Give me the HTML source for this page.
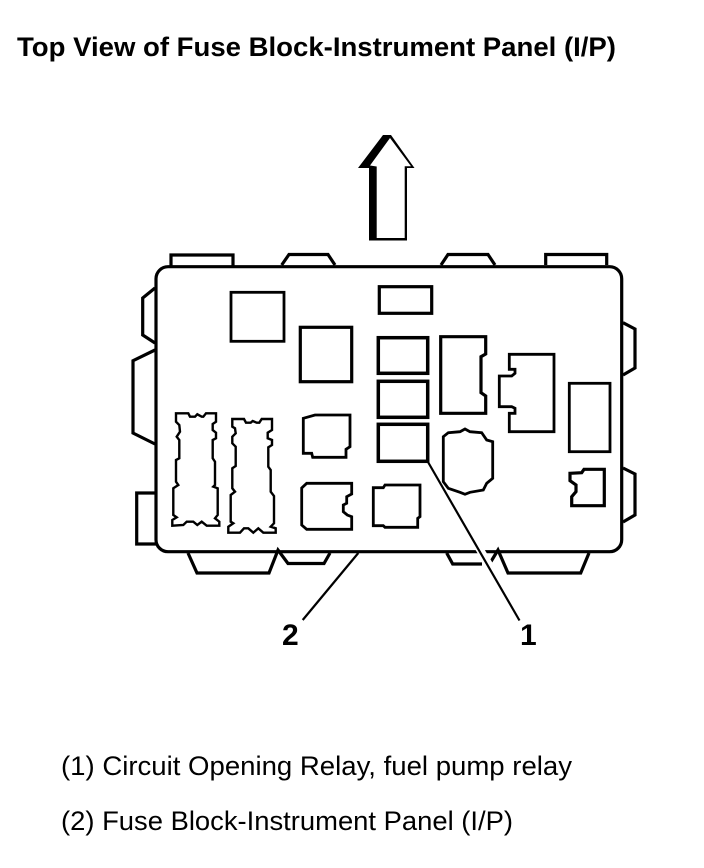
<!DOCTYPE html>
<html><head><meta charset="utf-8"><style>
html,body{margin:0;padding:0;background:#fff;width:704px;height:868px;overflow:hidden}
svg{display:block}
text{font-family:"Liberation Sans",Arial,sans-serif;fill:#000}
.s{fill:none;stroke:#000;stroke-linejoin:miter}
</style></head><body>
<svg width="704" height="868" viewBox="0 0 704 868" xmlns="http://www.w3.org/2000/svg">
<rect width="704" height="868" fill="#fff"/>
<text x="17" y="56" font-size="27" font-weight="bold" textLength="599" lengthAdjust="spacingAndGlyphs">Top View of Fuse Block-Instrument Panel (I/P)</text>

<polygon fill="#000" points="383,135 391,135 414.5,168 407,168 407,240.5 369,240.5 369,168 358,168"/>
<polygon fill="#fff" points="390,138 411,166.3 404.7,166.3 404.7,238 376.7,238 376.7,166.5 370,165.5"/>

<g class="s" stroke-width="3.2">
<path class="s" d="M171,266V255H233V266M281.7,265L289,254.5H328L335,265M441,265L448,254.5H488L495,265M545.7,265V254.5H606.7V265"/>
<path class="s" d="M155,288L142.7,298V335L155,343M155,350L133,360.7V433L155,444M155,493H136.7V544H156"/>
<path class="s" d="M188,553L197,573H269L278,550L288,563.5H324L330,553M446.7,553L452.7,564H482M490.7,562L498,550L508,573H580.7L589,553"/>
<path class="s" d="M623,322.7L635,329V368L623,375M623,468L635,474V515L623,522"/>
<rect class="s" x="156" y="266.7" width="465.7" height="285" rx="12"/>
<rect class="s" x="231" y="292.3" width="53" height="49" stroke-width="2.8"/>
<rect class="s" x="300.3" y="327.3" width="51.4" height="54.4"/>
<rect class="s" x="379.3" y="286.7" width="52.4" height="26.6"/>
<rect class="s" x="378.3" y="337.7" width="49.4" height="35.6" stroke-width="3.5"/>
<rect class="s" x="378.3" y="381.3" width="49.4" height="36" stroke-width="3.5"/>
<rect class="s" x="378.3" y="424.3" width="49.4" height="37" stroke-width="3.5"/>
<polygon class="s" points="440.7,336.7 485.7,336.7 485.7,354 481,356.7 481,392.7 485.7,396 485.7,413.3 440.7,413.3"/>
<polygon class="s" stroke-width="2.8" points="509.3,354.3 554,354.3 554,431.7 509.3,431.7 509.3,413.3 515,413.3 515,408.3 511.7,406.7 499.3,406.7 499.3,376 511.7,376 515,373.3 515,369.3 509.3,369.3"/>
<rect class="s" x="569.3" y="383.3" width="40.7" height="68.4" stroke-width="2.8"/>
<polygon class="s" points="570,473.3 581.7,472.7 584,469.3 604.3,469.3 604.3,505.7 571.7,505.7 571.7,496.7 576,491.7 576,485 570,480.7"/>
<polygon class="s" stroke-width="2.8" points="443.3,436.7 448.3,432.7 460,431.7 465,429 470,431.7 481.7,432.7 486.7,440 492.7,441.7 492.7,478.3 486.7,483.3 483.3,490 470,492.3 465,494.3 460,492.3 448.3,488.3 443.3,481.7"/>
<polygon class="s" stroke-width="2.8" points="373.3,487.7 383.3,487.7 385,485 420,485 420,516.7 417.7,518.3 417.7,527.3 385,527.3 383.3,525.7 373.3,525.7"/>
<polygon class="s" stroke-width="2.8" points="303.3,418.3 315,415 350,415 350,446.7 346,449.3 346,457.3 312.7,457.3 311.7,453.3 303.3,453.3"/>
<polygon class="s" stroke-width="2.8" points="306.7,483.3 351.7,483.3 351.7,494 346.7,496.7 346.7,503.3 343.3,505 343.3,511.7 347.3,515 351.7,516.7 351.7,529.3 306.7,529.3 301.7,525 301.7,488"/>
<polygon class="s" stroke-width="2.4" points="176,413.3 188.3,413.3 190,416.7 195,416.7 197.3,414.3 201.7,416.7 203.3,416.7 206,413.3 216,413.3 216,421.7 212.7,424 212.7,430 216,432.7 216,438.3 212.7,440 212.7,458.3 215,461.7 215,485 213.3,486.7 217.7,488.3 217.7,515 215,518.3 219.3,521.7 219.3,525.7 206.7,525.7 201.7,521.7 197.3,525 193.3,521.7 186.7,521.7 183.3,525 172.3,525.7 172.3,520 176.7,517.3 173.3,515 173.3,488.3 178.3,485 176,481.7 176,460 179.3,458.3 179.3,440 176.7,436.7 180,431.7 179.3,425 176,421.7"/>
<polygon class="s" stroke-width="2.4" points="232.3,419 244,419 246,422.7 250.7,422.7 252.7,421 256.7,422.7 259.3,422.7 261.7,419 272,419 272,430 267.7,432.7 267.7,438.3 272,440 272,445 268.3,447.3 268.3,466.7 270.7,470 270.7,491.7 274,496 274,523.3 270.7,526.7 275.7,528.3 275.7,532.7 263.3,532.7 258.3,528.3 253.3,532.7 248.3,528.3 244,528.3 240,532.7 228.3,532.7 228.3,526.7 233.3,523.3 230.7,521.7 230.7,495 235,491.7 232.3,488.3 232.3,468.3 235.7,466 235.7,446.7 232.3,443.3 232.3,436.7 235.7,433.3 235,428.3 232.3,426.7"/>
</g>

<line x1="470" y1="533" x2="497" y2="578" stroke="#fff" stroke-width="8"/>
<line x1="428" y1="462" x2="519.5" y2="620.5" stroke="#000" stroke-width="2.2"/>
<line x1="358.3" y1="553" x2="302.7" y2="620" stroke="#000" stroke-width="2.2"/>

<text x="282" y="645" font-size="30" font-weight="bold">2</text>
<text x="520" y="645" font-size="30" font-weight="bold">1</text>

<text x="61" y="775" font-size="27" textLength="511" lengthAdjust="spacingAndGlyphs">(1) Circuit Opening Relay, fuel pump relay</text>
<text x="61" y="830" font-size="27" textLength="452" lengthAdjust="spacingAndGlyphs">(2) Fuse Block-Instrument Panel (I/P)</text>
</svg>
</body></html>
